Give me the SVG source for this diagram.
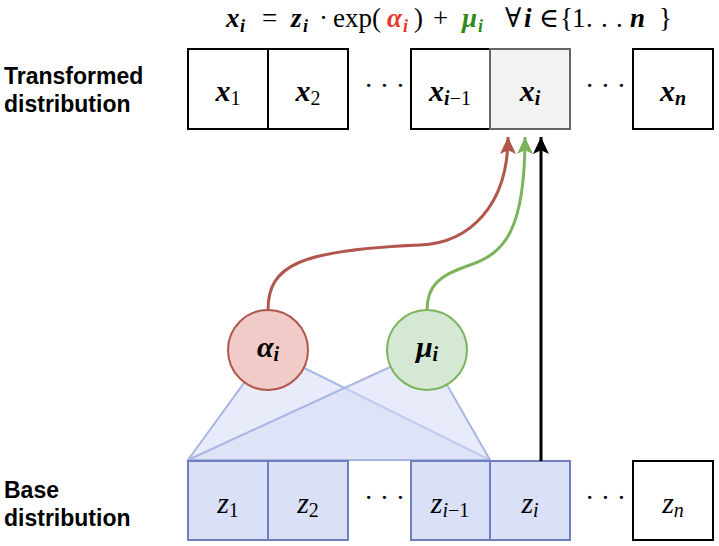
<svg xmlns="http://www.w3.org/2000/svg" width="719" height="546" viewBox="0 0 719 546">
<style>
.side{font-family:"Liberation Sans",Arial,sans-serif;font-weight:bold;font-size:23px;fill:#000}
.m{font-family:"Liberation Serif","DejaVu Serif",serif;fill:#000}
.f{font-size:27px}
.bi{font-weight:bold;font-style:italic}
.it{font-style:italic}
.up{font-style:normal;font-weight:normal}
.lbl{font-size:30px;text-anchor:middle}
.dots{font-family:"Liberation Serif",serif;font-size:28px;letter-spacing:6.5px;fill:#000}
.wbox{fill:#fff;stroke:#000;stroke-width:2}
.gbox{fill:#f2f2f2;stroke:#666;stroke-width:2}
.bbox{fill:#dae0f7;stroke:#6f80bd;stroke-width:2}
.tri{fill:#d6ddf6;fill-opacity:0.55;stroke:#a9b6e3;stroke-width:2}
.edge{fill:none;stroke-width:3}
</style>
<defs>
<marker id="ar" markerUnits="userSpaceOnUse" markerWidth="17" markerHeight="18" viewBox="0 0 18 17" refX="18" refY="8.5" orient="auto"><path d="M0,0 L18,8.5 L0,17 L4,8.5 Z" fill="#b0564b"/></marker>
<marker id="ag" markerUnits="userSpaceOnUse" markerWidth="17" markerHeight="18" viewBox="0 0 18 17" refX="18" refY="8.5" orient="auto"><path d="M0,0 L18,8.5 L0,17 L4,8.5 Z" fill="#7db35d"/></marker>
<marker id="ak" markerUnits="userSpaceOnUse" markerWidth="17" markerHeight="18" viewBox="0 0 18 17" refX="18" refY="8.5" orient="auto"><path d="M0,0 L18,8.5 L0,17 L4,8.5 Z" fill="#000"/></marker>
</defs>
<rect width="719" height="546" fill="#fff"/>

<g id="formula">
<text class="m f" y="27">
<tspan x="226" class="bi">x</tspan><tspan x="240" dy="5" font-size="18" class="bi">i</tspan>
<tspan x="262" dy="-5">=</tspan>
<tspan x="291" class="bi">z</tspan><tspan x="303" dy="5" font-size="18" class="bi">i</tspan>
<tspan x="319" dy="-5">·</tspan>
<tspan x="333">exp(</tspan>
<tspan x="387" class="bi" fill="#e53a2a">α</tspan><tspan x="403" dy="5" font-size="18" class="bi" fill="#e53a2a">i</tspan>
<tspan x="414" dy="-5">)</tspan>
<tspan x="433">+</tspan>
<tspan x="462" class="bi" fill="#2f8a1a">μ</tspan><tspan x="478" dy="5" font-size="18" class="bi" fill="#2f8a1a">i</tspan>
<tspan x="505" dy="-5">∀</tspan>
<tspan x="524" class="bi">i</tspan>
<tspan x="539">∈</tspan>
<tspan x="560">{</tspan>
<tspan x="572">1</tspan>
<tspan x="586">.</tspan><tspan x="601">.</tspan><tspan x="616">.</tspan>
<tspan x="630" class="bi">n</tspan>
<tspan x="659">}</tspan>
</text>
</g>

<g id="label-transformed">
<text class="side" x="4" y="84">Transformed</text>
<text class="side" x="4" y="112">distribution</text>
</g>
<g id="label-base">
<text class="side" x="4" y="498">Base</text>
<text class="side" x="4" y="526">distribution</text>
</g>

<g id="fan-alpha"><polygon class="tri" points="268,350 188,460 490,460"/></g>
<g id="fan-mu"><polygon class="tri" points="427,350 188,460 490,460"/></g>

<g id="x1"><rect class="wbox" x="188" y="49" width="80" height="80"/><text class="m lbl bi" x="228" y="101">x<tspan class="up" font-size="20" dy="4">1</tspan></text></g>
<g id="x2"><rect class="wbox" x="268" y="49" width="80" height="80"/><text class="m lbl bi" x="308" y="101">x<tspan class="up" font-size="20" dy="4">2</tspan></text></g>
<g id="dots-top1"><text class="dots" x="364" y="95">···</text></g>
<g id="xim1"><rect class="wbox" x="411" y="49" width="79" height="80"/><text class="m lbl bi" x="450" y="101">x<tspan font-size="20" dy="4">i</tspan><tspan class="up" font-size="20">−1</tspan></text></g>
<g id="xi"><rect class="gbox" x="490" y="49" width="80" height="80"/><text class="m lbl bi" x="530" y="101">x<tspan font-size="20" dy="4">i</tspan></text></g>
<g id="dots-top2"><text class="dots" x="585" y="95">···</text></g>
<g id="xn"><rect class="wbox" x="633" y="49" width="80" height="80"/><text class="m lbl bi" x="673" y="101">x<tspan font-size="20" dy="4">n</tspan></text></g>

<g id="z1"><rect class="bbox" x="188" y="461" width="80" height="79"/><text class="m lbl it" x="228" y="513">z<tspan class="up" font-size="20" dy="4">1</tspan></text></g>
<g id="z2"><rect class="bbox" x="268" y="461" width="80" height="79"/><text class="m lbl it" x="308" y="513">z<tspan class="up" font-size="20" dy="4">2</tspan></text></g>
<g id="dots-bot1"><text class="dots" x="364" y="507">···</text></g>
<g id="zim1"><rect class="bbox" x="411" y="461" width="79" height="79"/><text class="m lbl it" x="450" y="513">z<tspan font-size="20" dy="4">i</tspan><tspan class="up" font-size="20">−1</tspan></text></g>
<g id="zi"><rect class="bbox" x="490" y="461" width="80" height="79"/><text class="m lbl it" x="530" y="513">z<tspan font-size="20" dy="4">i</tspan></text></g>
<g id="dots-bot2"><text class="dots" x="585" y="507">···</text></g>
<g id="zn"><rect class="wbox" x="633" y="461" width="80" height="79"/><text class="m lbl it" x="673" y="513">z<tspan font-size="20" dy="4">n</tspan></text></g>

<g id="alpha"><circle cx="268" cy="350" r="40" fill="#f0cbc7" stroke="#b0564b" stroke-width="2"/><text class="m lbl bi" x="268" y="357">α<tspan font-size="20" dy="4">i</tspan></text></g>
<g id="mu"><circle cx="427" cy="350" r="40" fill="#d5e8d4" stroke="#7db35d" stroke-width="2"/><text class="m lbl bi" x="427" y="357">μ<tspan font-size="20" dy="4">i</tspan></text></g>

<g id="connectors">
<path class="edge" stroke="#b0564b" marker-end="url(#ar)" d="M268,310 C268,265 300,250 420,245 C470,243 508,205 508,137"/>
<path class="edge" stroke="#7db35d" marker-end="url(#ag)" d="M427,310 C427,285 440,275 470,265 C505,253 525,230 525,137"/>
<path class="edge" stroke="#000" marker-end="url(#ak)" d="M541,461 L541,137"/>
</g>
</svg>
